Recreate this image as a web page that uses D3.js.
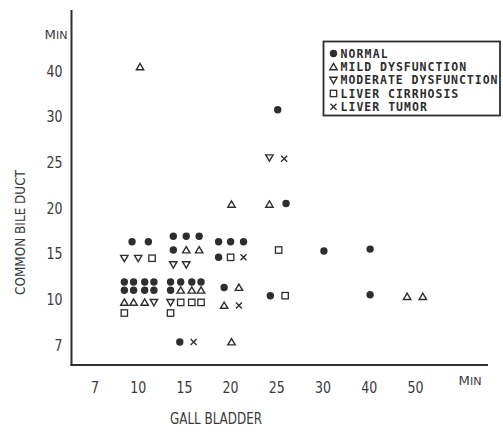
<!DOCTYPE html>
<html>
<head>
<meta charset="utf-8">
<script src="https://cdn.jsdelivr.net/npm/d3@7"></script>
<style>
  html, body { margin: 0; padding: 0; background: #ffffff; }
  svg { display: block; }
</style>
</head>
<body>
<script>
// Gall bladder vs common bile duct excretion times (minutes)
const xTicks = [7, 10, 15, 20, 25, 30, 40, 50];
const yTicks = [7, 10, 15, 20, 25, 30, 40];

// [gall bladder min, common bile duct min]
const normal = [
  [9.6, 16.3], [11.1, 16.3],
  [9.1, 11.9], [9.7, 11.9], [10.7, 11.9], [11.7, 11.9],
  [9.1, 11.0], [9.7, 11.0], [10.7, 11.0], [11.7, 11.0],
  [13.8, 16.9], [15.2, 16.9], [16.6, 16.9], [13.8, 15.4],
  [13.5, 11.9], [14.6, 11.9], [15.8, 11.9], [16.8, 11.9], [13.5, 11.0],
  [18.7, 16.3], [20.0, 16.3], [21.4, 16.3], [18.7, 14.6],
  [19.3, 11.3], [14.5, 7.2],
  [25.1, 31.5], [26.0, 20.5], [30.2, 15.3], [40.2, 15.5],
  [24.3, 10.4], [40.2, 10.5]
];
const mildDysfunction = [
  [10.2, 40.9],
  [9.1, 9.8], [9.7, 9.8], [10.7, 9.8],
  [15.2, 15.4], [16.6, 15.4],
  [14.6, 11.0], [15.8, 11.0], [16.8, 11.0],
  [20.9, 11.3], [19.3, 9.6], [20.1, 7.2],
  [20.1, 20.4], [24.2, 20.4],
  [48.2, 10.3], [51.6, 10.3]
];
const moderateDysfunction = [
  [9.1, 14.5], [10.0, 14.5], [11.7, 9.8],
  [13.8, 13.8], [15.2, 13.8], [13.5, 9.8],
  [24.2, 25.5]
];
const liverCirrhosis = [
  [11.5, 14.5], [9.1, 9.1],
  [14.6, 9.8], [15.8, 9.8], [16.8, 9.8], [13.5, 9.1],
  [20.0, 14.6], [25.2, 15.4], [25.9, 10.4]
];
const liverTumor = [
  [21.4, 14.6], [20.9, 9.6], [16.0, 7.2], [25.8, 25.4]
];
const legendLabels = ["NORMAL", "MILD DYSFUNCTION", "MODERATE DYSFUNCTION", "LIVER CIRRHOSIS", "LIVER TUMOR"];
const shapes = ["dot", "up", "down", "square", "cross"];
const seriesData = [normal, mildDysfunction, moderateDysfunction, liverCirrhosis, liverTumor];

const W = 503, H = 432;
const ink = "#2e2e2e";

const svg = d3.select("body").append("svg")
  .attr("width", W).attr("height", H)
  .attr("viewBox", `0 0 ${W} ${H}`);

// Tick values are spaced evenly; values between ticks are placed linearly.
const xPos = d3.scalePoint().domain(xTicks).range([92, 415.4]);
const yPos = d3.scalePoint().domain(yTicks).range([345, 71]);
const x = d3.scaleLinear().domain(xTicks).range(xTicks.map(d => xPos(d)));
const y = d3.scaleLinear().domain(yTicks).range(yTicks.map(d => yPos(d)));

// Axis lines
svg.append("line").attr("x1", 71.5).attr("x2", 71.5).attr("y1", 10).attr("y2", 366)
  .attr("stroke", ink).attr("stroke-width", 2);
svg.append("line").attr("x1", 70.5).attr("x2", 488).attr("y1", 365).attr("y2", 365)
  .attr("stroke", ink).attr("stroke-width", 2);

const labelFont = "'DejaVu Sans', 'Liberation Sans', sans-serif";

// Y tick labels
svg.append("g").selectAll("text").data(yTicks).join("text")
  .attr("x", 62.5).attr("y", d => yPos(d) + 5.5)
  .attr("text-anchor", "end")
  .attr("font-family", labelFont).attr("font-size", 15.5)
  .attr("fill", "#3a3a3a")
  .attr("textLength", d => String(d).length * 8)
  .attr("lengthAdjust", "spacingAndGlyphs")
  .text(d => d);

// X tick labels
svg.append("g").selectAll("text").data(xTicks).join("text")
  .attr("x", d => xPos(d) + (d < 10 ? 3 : 0)).attr("y", 393)
  .attr("text-anchor", "middle")
  .attr("font-family", labelFont).attr("font-size", 16.5)
  .attr("fill", "#3a3a3a")
  .attr("textLength", d => String(d).length * 8)
  .attr("lengthAdjust", "spacingAndGlyphs")
  .text(d => d);

// Unit labels "MIN"
function unitLabel(cx, cy) {
  const t = svg.append("text").attr("x", cx).attr("y", cy)
    .attr("text-anchor", "middle")
    .attr("font-family", labelFont).attr("fill", "#3a3a3a")
    .attr("textLength", 23).attr("lengthAdjust", "spacingAndGlyphs");
  t.append("tspan").attr("font-size", 12.5).text("M");
  t.append("tspan").attr("font-size", 10.5).text("IN");
}
unitLabel(56, 38.5);
unitLabel(470, 385);

// Axis titles
svg.append("text")
  .attr("transform", "translate(25,232.5) rotate(-90)")
  .attr("text-anchor", "middle")
  .attr("font-family", labelFont).attr("font-size", 14)
  .attr("fill", "#3a3a3a")
  .attr("textLength", 125).attr("lengthAdjust", "spacingAndGlyphs")
  .text("COMMON BILE DUCT");
svg.append("text")
  .attr("x", 216).attr("y", 423.5)
  .attr("text-anchor", "middle")
  .attr("font-family", labelFont).attr("font-size", 15)
  .attr("fill", "#3a3a3a")
  .attr("textLength", 92).attr("lengthAdjust", "spacingAndGlyphs")
  .text("GALL BLADDER");

// Marker drawing
function drawMarker(g, shape, cx, cy) {
  if (shape === "dot") {
    g.append("circle").attr("cx", cx).attr("cy", cy).attr("r", 3.7).attr("fill", ink);
  } else if (shape === "up") {
    g.append("path").attr("d", `M${cx - 3.7},${cy + 2.9}L${cx + 3.7},${cy + 2.9}L${cx},${cy - 3.4}Z`)
      .attr("fill", "none").attr("stroke", ink).attr("stroke-width", 1.4).attr("stroke-linejoin", "miter");
  } else if (shape === "down") {
    g.append("path").attr("d", `M${cx - 3.7},${cy - 2.9}L${cx + 3.7},${cy - 2.9}L${cx},${cy + 3.4}Z`)
      .attr("fill", "none").attr("stroke", ink).attr("stroke-width", 1.4).attr("stroke-linejoin", "miter");
  } else if (shape === "square") {
    g.append("rect").attr("x", cx - 3.2).attr("y", cy - 3.2).attr("width", 6.4).attr("height", 6.4)
      .attr("fill", "none").attr("stroke", ink).attr("stroke-width", 1.3);
  } else if (shape === "cross") {
    g.append("path").attr("d", `M${cx - 3},${cy - 3}L${cx + 3},${cy + 3}M${cx - 3},${cy + 3}L${cx + 3},${cy - 3}`)
      .attr("fill", "none").attr("stroke", ink).attr("stroke-width", 1.4);
  }
}

// Points
seriesData.forEach((pts, i) => {
  const g = svg.append("g").attr("class", "series-" + shapes[i]);
  pts.forEach(([gb, cbd]) => drawMarker(g, shapes[i], x(gb), y(cbd)));
});

// Legend
const legend = svg.append("g");
legend.append("rect").attr("x", 323.5).attr("y", 41.5).attr("width", 176.5).attr("height", 74)
  .attr("fill", "#ffffff").attr("stroke", ink).attr("stroke-width", 1.8);
const rowY = d3.scalePoint().domain(d3.range(legendLabels.length)).range([53.5, 106.8]);
legendLabels.forEach((lab, i) => {
  drawMarker(legend, shapes[i], 333.5, rowY(i));
  legend.append("text")
    .attr("x", 340.5).attr("y", rowY(i) + 4.3)
    .attr("font-family", "'DejaVu Sans Mono', 'Liberation Mono', monospace")
    .attr("font-weight", "bold").attr("font-size", 11.5)
    .attr("fill", ink)
    .attr("textLength", lab.length * 7.85).attr("lengthAdjust", "spacing")
    .text(lab);
});
</script>
</body>
</html>
